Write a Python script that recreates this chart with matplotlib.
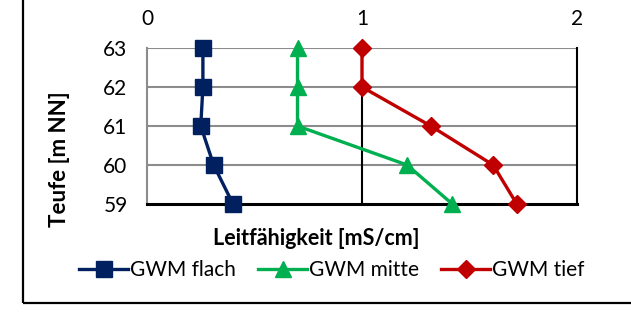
import matplotlib
matplotlib.use('Agg')
import matplotlib.pyplot as plt
from matplotlib.patches import Rectangle

plt.rcParams['font.family'] = ['Lato', 'DejaVu Sans']

depth = [63, 62, 61, 60, 59]
gwm_flach = [0.26, 0.26, 0.25, 0.31, 0.40]
gwm_mitte = [0.70, 0.70, 0.70, 1.21, 1.42]
gwm_tief = [1.00, 1.00, 1.32, 1.61, 1.72]

series = [
    ("GWM flach", gwm_flach, '#002060', 's', 11),
    ("GWM mitte", gwm_mitte, '#00B050', '^', 12),
    ("GWM tief", gwm_tief, '#C00000', 'D', 9),
]

fig = plt.figure(figsize=(6.31, 3.15), dpi=100)
ax = fig.add_axes([147/631, 1 - 204/315, 430/631, 156/315])

# chart border (only left and bottom visible in the crop)
fig.patches.append(Rectangle((23/631, 1 - 303/315), 2, 2, transform=fig.transFigure,
                             fill=False, edgecolor='black', linewidth=1.6))

for label, vals, col, mk, ms in series:
    ax.plot(vals, depth, color=col, lw=2.4, marker=mk, markersize=ms,
            markeredgecolor=col, label=label, clip_on=False, zorder=3)

ax.set_xlim(0, 2)
ax.set_ylim(59, 63)
ax.set_xticks([0, 1, 2])
ax.set_yticks(depth)
ax.xaxis.tick_top()
ax.tick_params(length=0, labelsize=15)
ax.tick_params(axis='y', pad=14)
ax.tick_params(axis='x', pad=14)

for y in [60, 61, 62, 63]:
    ax.axhline(y, color='#8c8c8c', lw=1.5, zorder=1)
ax.axvline(1, color='black', lw=1.5, zorder=1)

ax.spines['top'].set_visible(False)
ax.spines['left'].set_color('#8c8c8c')
ax.spines['left'].set_linewidth(1.5)
ax.spines['right'].set_color('black')
ax.spines['right'].set_linewidth(1.5)
ax.spines['bottom'].set_color('black')
ax.spines['bottom'].set_linewidth(2.2)

ax.set_xlabel('Leitfähigkeit [mS/cm]', fontsize=15.5, fontweight='bold')
ax.xaxis.set_label_coords(0.393, -0.155)
ax.set_ylabel('Teufe [m NN]', fontsize=16, fontweight='bold')
ax.yaxis.set_label_coords(-0.18, 0.29)

fig.legend(loc='center', bbox_to_anchor=(332/631, 1 - 270/315), ncol=3, frameon=False,
           fontsize=15, handlelength=2.35, handletextpad=0.1, columnspacing=1.05)

fig.savefig('out.png', dpi=100)
